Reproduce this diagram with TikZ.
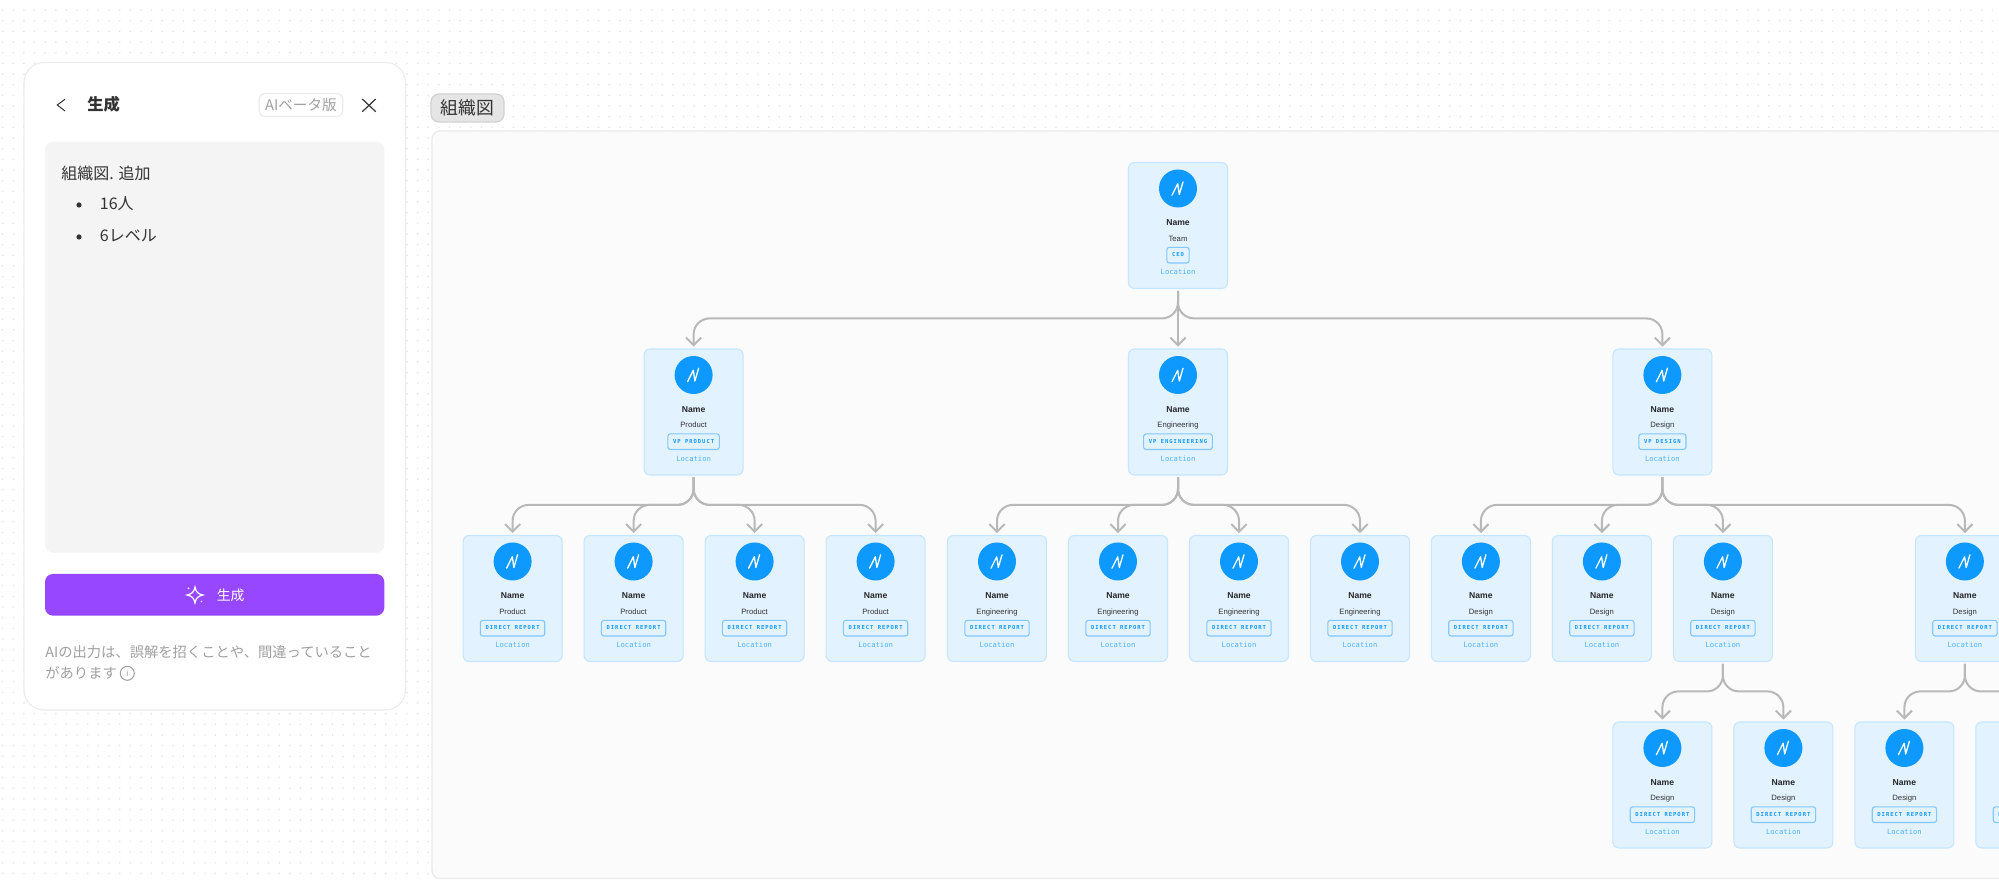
\documentclass[tikz,border=0pt]{standalone}
\usepackage{fontspec}
\setmainfont{Liberation Sans}
\newfontfamily\cjk{Noto Sans CJK JP}
\newfontfamily\locfont{DejaVu Sans Mono}
\newfontfamily\badgefont[LetterSpace=18]{DejaVu Sans Mono}
\usetikzlibrary{arrows.meta,positioning}

\definecolor{cardfill}{HTML}{E3F2FF}
\definecolor{cardline}{HTML}{C4E6FF}
\definecolor{figblue}{HTML}{0D99FF}
\definecolor{loctext}{HTML}{4DB5FF}
\definecolor{badgeline}{HTML}{80C8FF}
\definecolor{linkgrey}{HTML}{B8B8B8}
\definecolor{griddot}{HTML}{E4E4E4}
\definecolor{framefill}{HTML}{FBFBFB}
\definecolor{frameline}{HTML}{EBEBEB}
\definecolor{panelgrey}{HTML}{F4F4F4}
\definecolor{softtext}{HTML}{A0A0A0}
\definecolor{darktext}{HTML}{333333}
\definecolor{purplebtn}{HTML}{9747FF}

\newcommand{\orgcard}[4]{%
    \node[card,#2](#1){};
    \node[avatar](#1pic) at ([yshift=18.5pt]#1.center){};
    \draw[logo] ([shift={(-6,6.7)}]#1pic.center) -- ++(5.7,-11.4) -- ++(1.6,10.7) -- ++(3.7,-12.7);
    \node[personname](#1name) at ([yshift=-0.25pt]#1.center){Name};
    \node[teamtext](#1team) at ([yshift=-8pt]#1.center){#3};
    \node[badge](#1badge) at ([yshift=-14.85pt]#1.center){#4};
    \node[loc](#1loc) at ([yshift=-24.75pt]#1.center){Location};
}

\begin{document}
\begin{tikzpicture}[x=0.5pt,y=-0.5pt,on grid,node distance=93.25pt and 60.5pt]
            \tikzstyle{card} = [draw=cardline, fill=cardfill, line width=0.55pt, rounded corners=3pt, minimum width=49.5pt, minimum height=63pt, inner sep=0pt, outer sep=1.2pt]
            \tikzstyle{avatar} = [circle, fill=figblue, minimum size=19pt, inner sep=0pt]
            \tikzstyle{logo} = [white, line width=0.65pt, line join=round, line cap=round]
            \tikzstyle{personname} = [anchor=base, inner sep=0pt, text=black!85, font=\bfseries\fontsize{4.3pt}{5pt}\selectfont]
            \tikzstyle{teamtext} = [anchor=base, inner sep=0pt, text=darktext, font=\fontsize{3.85pt}{5pt}\selectfont]
            \tikzstyle{badge} = [draw=badgeline, fill=cardfill, line width=0.55pt, rounded corners=1.2pt, minimum height=7.8pt, inner xsep=2.6pt, inner ysep=0pt, text height=1.8pt, text depth=0pt, text=figblue, font=\badgefont\bfseries\fontsize{2.75pt}{3pt}\selectfont]
            \tikzstyle{loc} = [anchor=base, inner sep=0pt, text=loctext, font=\locfont\fontsize{3.6pt}{5pt}\selectfont]
            \tikzstyle{link} = [draw=linkgrey, line width=1pt, rounded corners=8pt, -{Straight Barb[length=3.8pt,width=7.6pt]}]
            \tikzstyle{paneltext} = [anchor=west, inner sep=0pt, font=\cjk\fontsize{8pt}{9pt}\selectfont, text=darktext]
            \tikzstyle{notetext} = [anchor=west, inner sep=0pt, font=\cjk\fontsize{7.15pt}{9pt}\selectfont, text=softtext]

            \useasboundingbox (0,0) rectangle (1999,881);
            \clip (0,0) rectangle (1999,881);
            \fill[white] (0,0) rectangle (1999,881);

            \foreach \i in {0,...,40}
                \foreach \j in {12,...,82}
                    \fill[griddot] ({2.67+10.64*\i},{-0.6+10.66*\j}) circle (0.85);
            \foreach \i in {0,...,187}
                \foreach \j in {0,...,12}
                    \fill[griddot] ({2.67+10.64*\i},{-0.6+10.66*\j}) circle (0.85);

            \draw[frameline, fill=framefill, line width=0.7pt, rounded corners=4pt] (432,131) rectangle (2040,878.5);
            \node[draw=black!18, fill=black!10, line width=0.6pt, rounded corners=4pt, minimum width=36.5pt, minimum height=14pt, inner sep=0pt, text=darktext, font=\cjk\fontsize{8.9pt}{10pt}\selectfont](title) at (467.5,108){組織図};

            \draw[frameline, fill=white, line width=0.55pt, rounded corners=10pt] (24,62.5) rectangle (405.5,710);
            \draw[darktext, line width=0.5pt] (65,99.3) -- (57.3,105) -- (65,111);
            \node[anchor=west, inner sep=0pt, text=darktext, font=\cjk\bfseries\fontsize{8.15pt}{10pt}\selectfont](head) at (87,104){生成};
            \node[draw=black!8, line width=0.6pt, rounded corners=3pt, minimum width=41.7pt, minimum height=11.5pt, inner sep=0pt, text=softtext, font=\cjk\fontsize{7.3pt}{8pt}\selectfont](beta) at (301,105){AIベータ版};
            \draw[darktext, line width=0.6pt] (362.3,99) -- (375.7,111.7);
            \draw[darktext, line width=0.6pt] (375.7,99) -- (362.3,111.7);

            \fill[panelgrey, rounded corners=4pt] (45,141.7) rectangle (384.3,552.7);
            \node[paneltext](prompt) at (61,173){組織図. 追加};
            \fill[darktext] (79,205) circle (2.6);
            \node[paneltext](count) at (99.5,204){16人};
            \fill[darktext] (79,237) circle (2.6);
            \node[paneltext](levels) at (99.5,236){6レベル};

            \node[fill=purplebtn, rounded corners=4pt, minimum width=169.65pt, minimum height=20.85pt, inner sep=0pt](button) at (214.65,594.85){};
            \draw[white, line width=0.6pt] (195,587) .. controls (196,592) and (198,594) .. (203,595) .. controls (198,596) and (196,598) .. (195,603) .. controls (194,598) and (192,596) .. (187,595) .. controls (192,594) and (194,592) .. (195,587) -- cycle;
            \fill[white] (188.5,588.5) circle (1) (201.5,601.5) circle (0.8);
            \node[anchor=west, inner sep=0pt, text=white, font=\cjk\fontsize{6.9pt}{8pt}\selectfont](gen) at (216.5,595){生成};

            \node[notetext](note) at (45,652.3){AIの出力は、誤解を招くことや、間違っていること};
            \node[notetext](note2) at (45,673.3){があります};
            \node[circle, draw=softtext, line width=0.5pt, minimum size=7pt, inner sep=0pt, text=softtext, font=\fontsize{4.5pt}{5pt}\selectfont](info) at (127.3,673.3){i};

            \orgcard{ceo}{at={(1178,225.5)}}{Team}{CEO}
            \orgcard{eng}{below=of ceo}{Engineering}{VP ENGINEERING}
            \orgcard{prod}{left=242.2pt of eng}{Product}{VP PRODUCT}
            \orgcard{des}{right=242.2pt of eng}{Design}{VP DESIGN}

            \orgcard{prodA}{below left=93.25pt and 90.5pt of prod}{Product}{DIRECT REPORT}
            \orgcard{prodB}{right=of prodA}{Product}{DIRECT REPORT}
            \orgcard{prodC}{right=of prodB}{Product}{DIRECT REPORT}
            \orgcard{prodD}{right=of prodC}{Product}{DIRECT REPORT}
            \orgcard{engA}{below left=93.25pt and 90.5pt of eng}{Engineering}{DIRECT REPORT}
            \orgcard{engB}{right=of engA}{Engineering}{DIRECT REPORT}
            \orgcard{engC}{right=of engB}{Engineering}{DIRECT REPORT}
            \orgcard{engD}{right=of engC}{Engineering}{DIRECT REPORT}
            \orgcard{desA}{below left=93.25pt and 90.75pt of des}{Design}{DIRECT REPORT}
            \orgcard{desB}{right=of desA}{Design}{DIRECT REPORT}
            \orgcard{desC}{right=of desB}{Design}{DIRECT REPORT}
            \orgcard{desD}{right=121pt of desC}{Design}{DIRECT REPORT}

            \orgcard{desCa}{below left=93.25pt and 30.25pt of desC}{Design}{DIRECT REPORT}
            \orgcard{desCb}{right=of desCa}{Design}{DIRECT REPORT}
            \orgcard{desDa}{below left=93.25pt and 30.25pt of desD}{Design}{DIRECT REPORT}
            \orgcard{desDb}{right=of desDa}{Design}{DIRECT REPORT}

            \draw[link] (ceo.south) -- (eng.north);
            \foreach \from/\to in {ceo/prod,ceo/des,prod/prodA,prod/prodB,prod/prodC,prod/prodD,eng/engA,eng/engB,eng/engC,eng/engD,des/desA,des/desB,des/desC,des/desD,desC/desCa,desC/desCb,desD/desDa,desD/desDb}
                \draw[link] (\from.south) -- ++(0,27.5) -| (\to.north);
      \end{tikzpicture}
\end{document}
